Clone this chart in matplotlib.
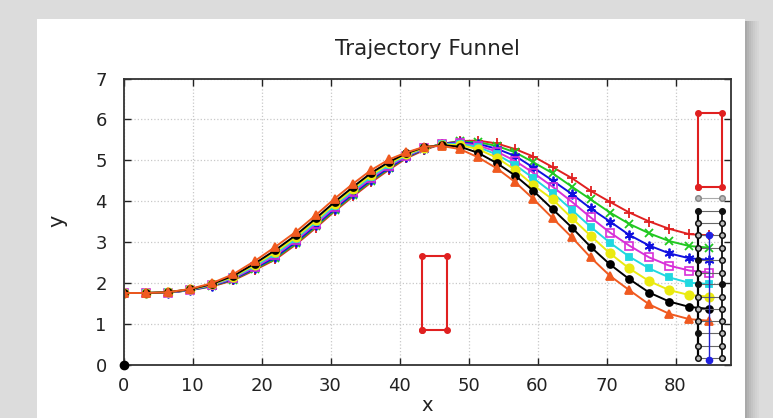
import numpy as np
import matplotlib
matplotlib.use("Agg")
import matplotlib.pyplot as plt
from matplotlib.patches import Rectangle

plt.rcParams['font.family'] = ['DejaVu Sans']

# shared sample positions along the trajectories
traj_x = [0, 3.3, 6.5, 9.7, 12.8, 15.9, 19.0, 22.0, 25.0, 27.9, 30.6, 33.3, 35.9, 38.5,
          41.0, 43.6, 46.1, 48.8, 51.4, 54.1, 56.8, 59.4,
          62.2, 65.0, 67.7, 70.5, 73.3, 76.2, 79.1, 82.0, 84.9]

y_red = [1.75, 1.75, 1.76, 1.82, 1.91, 2.06, 2.31, 2.57, 2.94, 3.35, 3.75, 4.12, 4.46, 4.77,
         5.05, 5.25, 5.40, 5.47, 5.48, 5.41, 5.27, 5.09,
         4.83, 4.56, 4.25, 3.98, 3.72, 3.50, 3.32, 3.19, 3.16]
y_green = [1.75, 1.75, 1.76, 1.82, 1.92, 2.08, 2.33, 2.60, 2.97, 3.38, 3.78, 4.15, 4.49, 4.80,
           5.07, 5.27, 5.40, 5.46, 5.44, 5.35, 5.19, 4.95,
           4.68, 4.35, 4.04, 3.72, 3.44, 3.21, 3.02, 2.90, 2.86]
y_blue = [1.75, 1.75, 1.76, 1.82, 1.93, 2.09, 2.35, 2.63, 3.00, 3.41, 3.81, 4.18, 4.52, 4.82,
          5.08, 5.28, 5.40, 5.44, 5.40, 5.28, 5.10, 4.82,
          4.50, 4.17, 3.82, 3.50, 3.17, 2.91, 2.72, 2.60, 2.56]
y_magenta = [1.75, 1.75, 1.76, 1.83, 1.94, 2.11, 2.38, 2.67, 3.04, 3.45, 3.85, 4.22, 4.56, 4.86,
             5.10, 5.29, 5.39, 5.42, 5.36, 5.21, 4.98, 4.69,
             4.35, 3.98, 3.60, 3.23, 2.91, 2.62, 2.42, 2.30, 2.25]
y_cyan = [1.75, 1.75, 1.77, 1.83, 1.95, 2.13, 2.41, 2.71, 3.08, 3.49, 3.89, 4.26, 4.60, 4.89,
          5.12, 5.30, 5.39, 5.40, 5.32, 5.14, 4.88, 4.56,
          4.20, 3.78, 3.37, 2.98, 2.64, 2.35, 2.13, 2.00, 1.97]
y_yellow = [1.75, 1.75, 1.77, 1.84, 1.96, 2.15, 2.44, 2.75, 3.12, 3.53, 3.93, 4.30, 4.64, 4.92,
            5.14, 5.31, 5.38, 5.37, 5.27, 5.06, 4.76, 4.39,
            4.04, 3.58, 3.15, 2.72, 2.35, 2.04, 1.82, 1.70, 1.66]
y_black = [1.75, 1.75, 1.77, 1.84, 1.97, 2.17, 2.47, 2.80, 3.17, 3.58, 3.98, 4.35, 4.69, 4.96,
           5.17, 5.32, 5.37, 5.33, 5.18, 4.93, 4.62, 4.25,
           3.80, 3.35, 2.88, 2.45, 2.09, 1.76, 1.54, 1.41, 1.36]
y_orange = [1.75, 1.75, 1.77, 1.85, 1.99, 2.21, 2.53, 2.88, 3.25, 3.66, 4.06, 4.43, 4.76, 5.02,
            5.19, 5.33, 5.35, 5.27, 5.07, 4.80, 4.46, 4.05,
            3.58, 3.11, 2.62, 2.17, 1.82, 1.47, 1.24, 1.11, 1.07]

# obstacles (red boxes)
box1_x = [43.2, 46.9, 46.9, 43.2, 43.2]
box1_y = [0.84, 0.84, 2.66, 2.66, 0.84]
box2_x = [83.3, 86.7, 86.7, 83.3, 83.3]
box2_y = [4.35, 4.35, 6.16, 6.16, 4.35]

# goal lattice on the right
goal_left_x = 83.2
goal_mid_x = 84.9
goal_right_x = 86.8
goal_rows = [4.07, 3.76, 3.47, 3.16, 2.86, 2.56, 2.25, 1.97, 1.66, 1.36, 1.07, 0.77, 0.46, 0.17]
filled_left = [3.76, 2.56, 1.97, 0.77]
filled_right = [3.76, 1.97]
blue_line_y = [3.16, 0.12]

series = [
    (y_red, '#e02020', '+', 7, 'full'),
    (y_green, '#20c820', 'x', 6, 'full'),
    (y_blue, '#1010e0', (6, 2, 0), 7, 'full'),
    (y_magenta, '#d830d8', 's', 6, 'none'),
    (y_cyan, '#20d8e0', 's', 5, 'full'),
    (y_yellow, '#eaea10', 'o', 6, 'full'),
    (y_black, '#000000', 'o', 5, 'full'),
    (y_orange, '#f05a20', '^', 6, 'full'),
]

fig = plt.figure(figsize=(7.73, 4.18), dpi=100)
fig.patch.set_facecolor('#dcdcdc')

# white panel with a soft shadow on the right
shade = ['#a9a9a9', '#b3b3b3', '#bcbcbc', '#c4c4c4', '#cbcbcb', '#d1d1d1', '#d6d6d6']
for i, c in enumerate(shade):
    fig.add_artist(Rectangle(((745 + i * 2) / 773, 0), 2 / 773, 0.95, transform=fig.transFigure,
                             facecolor=c, edgecolor='none', zorder=-3))
fig.add_artist(Rectangle((37 / 773, 0), 708 / 773, 399 / 418, transform=fig.transFigure,
                         facecolor='white', edgecolor='none', zorder=-2))

ax = fig.add_axes([123.5 / 773, 53.5 / 418, 607.2 / 773, 286 / 418])
ax.set_facecolor('none')

for ys, col, mk, ms, fill in series:
    if fill == 'none':
        ax.plot(traj_x, ys, color=col, lw=1.4, marker=mk, ms=ms, mfc='none', mec=col, mew=1.2)
    else:
        ax.plot(traj_x, ys, color=col, lw=1.4, marker=mk, ms=ms, mec=col, mew=1.3)

ax.plot(box1_x, box1_y, color='#e02020', lw=1.5, marker='o', ms=4)
ax.plot(box2_x, box2_y, color='#e02020', lw=1.5, marker='o', ms=4)

# goal lattice
for r in goal_rows:
    gc = '#aaaaaa' if r == goal_rows[0] else '#666666'
    ax.plot([goal_left_x, goal_right_x], [r, r], color=gc, lw=0.8, zorder=3)
ax.plot([goal_left_x, goal_left_x], [goal_rows[1], goal_rows[-1]], color='black', lw=1.6, zorder=3)
ax.plot([goal_right_x, goal_right_x], [goal_rows[1], goal_rows[-1]], color='black', lw=1.2, zorder=3)
ax.plot([goal_mid_x, goal_mid_x], blue_line_y, color='#2020d0', lw=1.0, zorder=4)
ax.plot([goal_mid_x], [blue_line_y[1]], 'o', color='#2020e0', ms=4.5, zorder=5)
ax.plot([goal_mid_x], [blue_line_y[0]], 'o', color='#2020e0', ms=4.5, zorder=5)
for r in goal_rows:
    ec = '#888888' if r == goal_rows[0] else '#111111'
    ax.plot([goal_left_x], [r], 'o', ms=4, mec=ec, mew=1.1,
            mfc=ec if r in filled_left else '#bbbbbb', zorder=5)
    ax.plot([goal_right_x], [r], 'o', ms=4, mec=ec, mew=1.1,
            mfc=ec if r in filled_right else '#bbbbbb', zorder=5)

ax.plot([0], [0], 'o', color='black', ms=6, clip_on=False, zorder=6)

ax.set_xlim(0, 88)
ax.set_ylim(0, 7)
ax.set_xticks(np.arange(0, 81, 10))
ax.set_yticks(np.arange(0, 8, 1))
ax.tick_params(direction='in', top=True, right=True, length=5, width=1, labelsize=13,
               pad=9, colors='#222222')
ax.tick_params(axis='y', pad=12)
ax.grid(True, color='#c8c8c8', linestyle=':', linewidth=0.9)
for s in ax.spines.values():
    s.set_linewidth(1.3)
    s.set_color('#333333')

fig.text(427 / 773, (418 - 49) / 418, 'Trajectory Funnel', ha='center', va='center',
         fontsize=15.5, color='#222222')
fig.text(57 / 773, (418 - 221) / 418, 'y', ha='center', va='center', rotation=90,
         fontsize=15, color='#222222')
fig.text(427 / 773, 3 / 418, 'x', ha='center', va='bottom', fontsize=14,
         color='#222222')

fig.savefig('out.png', dpi=100, facecolor=fig.get_facecolor())
